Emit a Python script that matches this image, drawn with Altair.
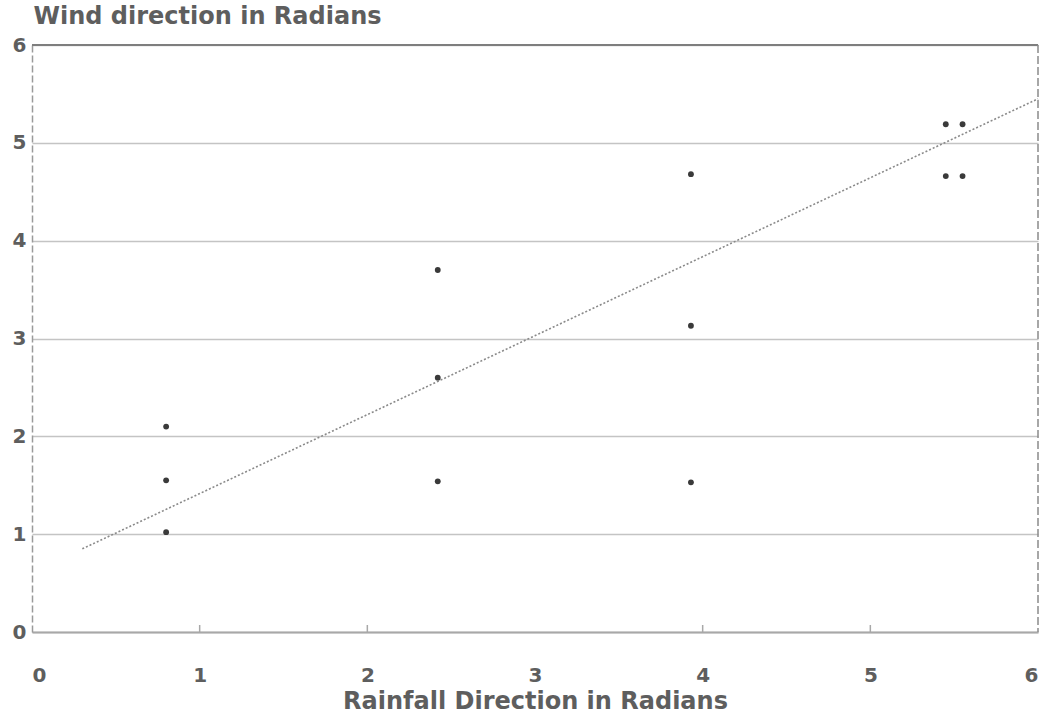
import altair as alt
import pandas as pd

# Data
rain_dir = [0.80, 0.80, 0.80, 2.42, 2.42, 2.42, 3.93, 3.93, 3.93, 5.45, 5.55, 5.45, 5.55]
wind_dir = [2.10, 1.55, 1.02, 3.70, 2.60, 1.54, 4.68, 3.13, 1.53, 5.19, 5.19, 4.66, 4.66]

fit_x = [0.30, 6.00]
fit_y = [0.85, 5.45]

x_ticks = [0, 1, 2, 3, 4, 5, 6]
y_ticks = [0, 1, 2, 3, 4, 5, 6]
inner_x_ticks = [1, 2, 4, 5]

pts = pd.DataFrame({"x": rain_dir, "y": wind_dir})
fit = pd.DataFrame({"x": fit_x, "y": fit_y})
tk = pd.DataFrame({"x": inner_x_ticks})

W, H = 1006, 587
FONT = "DejaVu Sans"
TXT = "#5e5e5e"

xscale = alt.Scale(domain=[0, 6], nice=False, zero=False)
yscale = alt.Scale(domain=[0, 6], nice=False, zero=False)

xaxis = alt.Axis(
    values=x_ticks, format="d", grid=False, ticks=False,
    labelFont=FONT, labelFontSize=20, labelFontWeight="bold", labelColor=TXT,
    labelPadding=33, domainColor="#a8a8a8", domainWidth=2,
    title="Rainfall Direction in Radians", titleFont=FONT, titleFontSize=24,
    titleFontWeight="bold", titleColor=TXT, titleY=76, titleBaseline="alphabetic",
)
yaxis = alt.Axis(
    values=y_ticks, format="d", grid=True, gridColor="#c4c4c4", gridWidth=1.5,
    ticks=False, labelFont=FONT, labelFontSize=20, labelFontWeight="bold",
    labelColor=TXT, labelPadding=6, domainColor="#9a9a9a", domainWidth=1.5,
    domainDash=[7, 3],
    title="Wind direction in Radians", titleFont=FONT, titleFontSize=24,
    titleFontWeight="bold", titleColor=TXT, titleAngle=0, titleAlign="left",
    titleX=1, titleY=-22, titleBaseline="alphabetic",
)

points = alt.Chart(pts).mark_circle(size=34, color="#3a3a3a", opacity=1).encode(
    x=alt.X("x:Q", scale=xscale, axis=xaxis),
    y=alt.Y("y:Q", scale=yscale, axis=yaxis),
)

line = alt.Chart(fit).mark_line(color="#8a8a8a", strokeWidth=1.6, strokeDash=[2, 2]).encode(
    x=alt.X("x:Q", scale=xscale),
    y=alt.Y("y:Q", scale=yscale),
)

top_rule = alt.Chart(pd.DataFrame({"y": [6]})).mark_rule(color="#7e7e7e", strokeWidth=2).encode(
    y=alt.Y("y:Q", scale=yscale)
)
right_rule = alt.Chart(pd.DataFrame({"x": [6]})).mark_rule(
    color="#8a8a8a", strokeWidth=1.5, strokeDash=[8, 3]
).encode(x=alt.X("x:Q", scale=xscale))

xtick_marks = alt.Chart(tk).mark_rule(color="#a8a8a8", strokeWidth=1.5).encode(
    x=alt.X("x:Q", scale=xscale),
    y=alt.value(H),
    y2=alt.value(H - 7),
)

chart = alt.layer(top_rule, right_rule, xtick_marks, line, points).properties(
    width=W, height=H,
    autosize=alt.AutoSizeParams(type="none"),
    padding={"left": 32, "top": 45, "right": 14, "bottom": 86},
    background="white",
).configure_view(stroke=None)

chart.save("out.html", embed_options={"renderer": "svg", "actions": False})
